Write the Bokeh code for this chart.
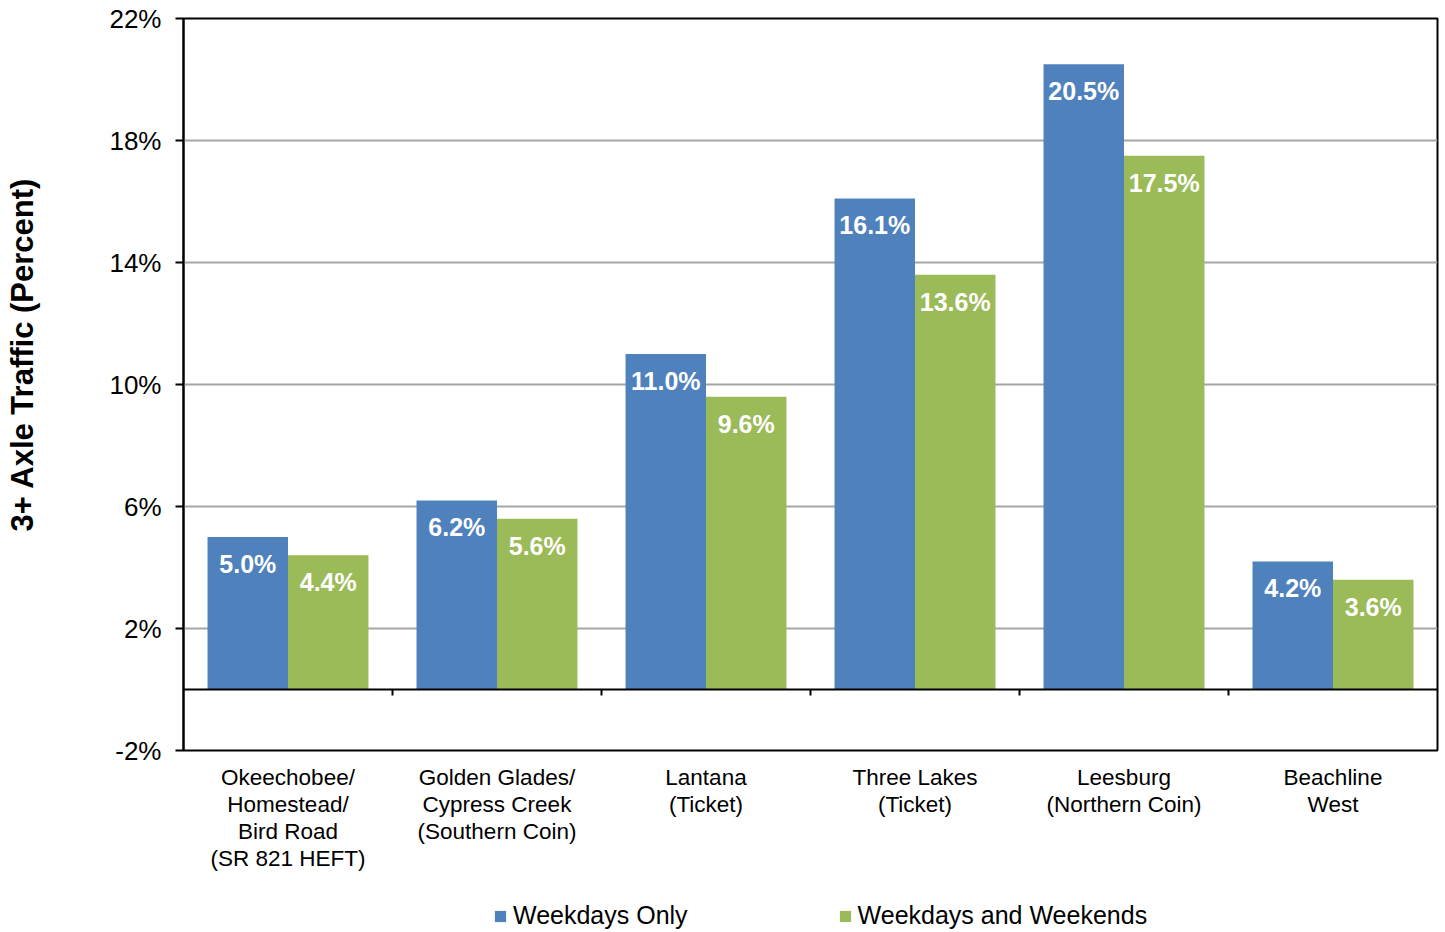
import math
from bokeh.plotting import figure
from bokeh.layouts import column, row
from bokeh.models import (Range1d, FactorRange, FixedTicker, PrintfTickFormatter,
                          Span, ColumnDataSource, Legend, LegendItem, Label)
from bokeh.transform import dodge
from bokeh.core.properties import value
from bokeh.embed import file_html
from bokeh.resources import INLINE

categories = [
    "Okeechobee/\nHomestead/\nBird Road\n(SR 821 HEFT)",
    "Golden Glades/\nCypress Creek\n(Southern Coin)",
    "Lantana\n(Ticket)",
    "Three Lakes\n(Ticket)",
    "Leesburg\n(Northern Coin)",
    "Beachline\nWest",
]
weekdays_only = [5.0, 6.2, 11.0, 16.1, 20.5, 4.2]
weekdays_weekends = [4.4, 5.6, 9.6, 13.6, 17.5, 3.6]
y_ticks = [-2, 2, 6, 10, 14, 18, 22]
series_names = ["Weekdays Only", "Weekdays and Weekends"]
colors = ["#4F81BD", "#9BBB59"]
y_title = "3+ Axle Traffic (Percent)"

FONT = "Liberation Sans"
TW = 45  # width of the y-title strip

src = ColumnDataSource(dict(
    cat=categories,
    a=weekdays_only,
    b=weekdays_weekends,
    a_lbl=["%.1f%%" % v for v in weekdays_only],
    b_lbl=["%.1f%%" % v for v in weekdays_weekends],
))

p = figure(
    width=1440 - TW, height=885,
    x_range=FactorRange(*categories, range_padding=0),
    y_range=Range1d(-2, 22),
    output_backend="svg", toolbar_location=None,
    min_border_left=183 - TW, min_border_right=3, min_border_top=18, min_border_bottom=135,
)
p.outline_line_color = "black"
p.outline_line_width = 2
p.background_fill_color = "white"
p.border_fill_color = "white"

# grid
p.xgrid.grid_line_color = None
p.ygrid.ticker = FixedTicker(ticks=y_ticks)
p.ygrid.grid_line_color = "#A6A6A6"
p.ygrid.grid_line_width = 2

bw = 0.385
p.vbar(x=dodge("cat", -bw / 2, range=p.x_range), top="a", width=bw, bottom=0,
       source=src, fill_color=colors[0], line_color=None)
p.vbar(x=dodge("cat", bw / 2, range=p.x_range), top="b", width=bw, bottom=0,
       source=src, fill_color=colors[1], line_color=None)

# data labels
for col, lbl, off in (("a", "a_lbl", -bw / 2), ("b", "b_lbl", bw / 2)):
    p.text(x=dodge("cat", off, range=p.x_range), y=col, text=lbl, source=src,
           text_color="white", text_font=value(FONT), text_font_style="bold",
           text_font_size="25px", text_align="center", text_baseline="middle",
           y_offset=27)

# zero line + category separators
p.add_layout(Span(location=0, dimension="width", line_color="black", line_width=2))
sep_x = list(range(1, len(categories)))
p.segment(x0=sep_x, x1=sep_x, y0=[0] * len(sep_x), y1=[-0.2] * len(sep_x),
          line_color="black", line_width=2)

# y axis
ya = p.yaxis[0]
ya.ticker = FixedTicker(ticks=y_ticks)
ya.formatter = PrintfTickFormatter(format="%d%%")
ya.axis_line_color = "black"
ya.axis_line_width = 2
ya.major_tick_line_color = "black"
ya.major_tick_line_width = 2
ya.major_tick_out = 8
ya.major_tick_in = 0
ya.minor_tick_line_color = None
ya.major_label_text_font = FONT
ya.major_label_text_font_size = "26px"
ya.major_label_text_color = "black"
ya.major_label_standoff = 14

# x axis
xa = p.xaxis[0]
xa.axis_line_color = None
xa.major_tick_line_color = None
xa.minor_tick_line_color = None
xa.major_label_text_font = FONT
xa.major_label_text_font_size = "22.5px"
xa.major_label_text_color = "black"
xa.major_label_text_line_height = 1.08
xa.major_label_standoff = 8
xa.major_label_orientation = "horizontal"

# y title strip (left of the chart); its frame is aligned with the chart frame
tf = figure(
    width=TW, height=885, x_range=Range1d(0, 1), y_range=Range1d(0, 1),
    output_backend="svg", toolbar_location=None,
    x_axis_location=None, y_axis_location=None,
    min_border_left=0, min_border_right=0, min_border_top=0, min_border_bottom=0,
)
tf.outline_line_color = None
tf.grid.visible = False
tf.border_fill_color = "white"
tf.background_fill_color = "white"
tf.add_layout(Label(x=22, y=396, x_units="screen", y_units="screen",
                    text=y_title, angle=math.pi / 2, text_align="center",
                    text_baseline="middle", text_font=FONT, text_font_size="31px",
                    text_font_style="bold", text_color="black"))

# legend strip (below the chart)
lp = figure(
    width=1440, height=47, x_range=Range1d(0, 1), y_range=Range1d(0, 1),
    output_backend="svg", toolbar_location=None,
    x_axis_location=None, y_axis_location=None,
    min_border_left=183, min_border_right=3, min_border_top=0, min_border_bottom=0,
)
lp.outline_line_color = None
lp.grid.visible = False
lp.border_fill_color = "white"
lp.background_fill_color = "white"
# proxy glyphs placed outside the visible range, used only for legend swatches
proxy = ColumnDataSource(dict(x=[-10.0], top=[-10.0]))
g1 = lp.vbar(x="x", top="top", width=0.1, source=proxy, fill_color=colors[0], line_color=None)
g2 = lp.vbar(x="x", top="top", width=0.1, source=proxy, fill_color=colors[1], line_color=None)

lg = Legend(items=[LegendItem(label=series_names[0], renderers=[g1]),
                   LegendItem(label=series_names[1], renderers=[g2])],
            location=(310, 2), orientation="horizontal")
lg.border_line_color = None
lg.background_fill_alpha = 0
lg.padding = 0
lg.margin = 0
lg.spacing = 150
lg.glyph_width = 14
lg.glyph_height = 14
lg.label_standoff = 6
lg.label_text_font = FONT
lg.label_text_font_size = "25px"
lg.label_text_color = "black"
lp.add_layout(lg, "center")

layout = column(row(tf, p, spacing=0), lp, spacing=0)
open("out.html", "w").write(file_html(layout, INLINE))
